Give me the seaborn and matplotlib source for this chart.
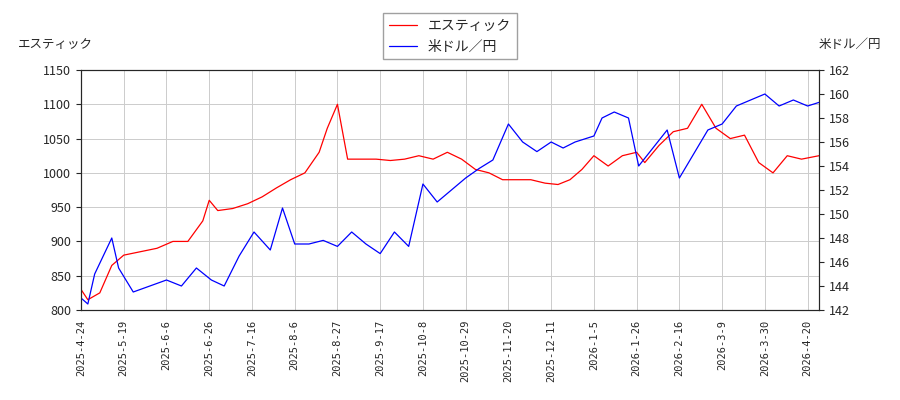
import matplotlib
matplotlib.use("Agg")
import matplotlib.pyplot as plt
import numpy as np
import pandas as pd
import seaborn as sns

sns.set_style("white")
plt.rcParams["font.family"] = ["Noto Sans CJK JP", "DejaVu Sans"]

stock_dates = ["2025-04-24", "2025-04-28", "2025-05-05", "2025-05-12", "2025-05-19", "2025-05-26",
               "2025-06-02", "2025-06-09", "2025-06-16", "2025-06-23", "2025-06-26", "2025-06-30",
               "2025-07-07", "2025-07-14", "2025-07-21", "2025-07-28", "2025-08-04", "2025-08-11",
               "2025-08-18", "2025-08-22", "2025-08-27", "2025-09-01", "2025-09-08", "2025-09-15",
               "2025-09-22", "2025-09-29", "2025-10-06", "2025-10-13", "2025-10-20", "2025-10-27",
               "2025-11-03", "2025-11-10", "2025-11-17", "2025-11-24", "2025-12-01", "2025-12-08",
               "2025-12-15", "2025-12-22", "2025-12-29", "2026-01-05", "2026-01-12", "2026-01-19",
               "2026-01-26", "2026-01-30", "2026-02-06", "2026-02-13", "2026-02-20", "2026-02-27",
               "2026-03-06", "2026-03-13", "2026-03-20", "2026-03-27", "2026-04-03", "2026-04-10",
               "2026-04-17", "2026-04-24"]
stock_vals = [830, 815, 825, 865, 880, 885, 890, 900, 900, 930, 960, 945, 948, 955, 965, 978, 990,
              1000, 1030, 1065, 1100, 1020, 1020, 1020, 1018, 1020, 1025, 1020, 1030, 1020, 1005,
              1000, 990, 990, 990, 985, 983, 990, 1005, 1025, 1010, 1025, 1030, 1015, 1040, 1060,
              1065, 1100, 1065, 1050, 1055, 1015, 1000, 1025, 1020, 1025]

fx_dates = ["2025-04-24", "2025-04-28", "2025-05-02", "2025-05-12", "2025-05-16", "2025-05-23",
            "2025-05-30", "2025-06-06", "2025-06-13", "2025-06-20", "2025-06-27", "2025-07-03",
            "2025-07-10", "2025-07-17", "2025-07-25", "2025-07-31", "2025-08-06", "2025-08-13",
            "2025-08-20", "2025-08-27", "2025-09-03", "2025-09-10", "2025-09-17", "2025-09-24",
            "2025-10-01", "2025-10-08", "2025-10-15", "2025-10-22", "2025-10-29", "2025-11-05",
            "2025-11-12", "2025-11-20", "2025-11-27", "2025-12-04", "2025-12-11", "2025-12-18",
            "2025-12-25", "2026-01-05", "2026-01-09", "2026-01-15", "2026-01-22", "2026-01-27",
            "2026-02-03", "2026-02-10", "2026-02-16", "2026-02-23", "2026-03-02", "2026-03-09",
            "2026-03-16", "2026-03-23", "2026-03-30", "2026-04-06", "2026-04-13", "2026-04-20",
            "2026-04-24"]
fx_vals = [143, 142.5, 145, 148, 145.5, 143.5, 144, 144.5, 144, 145.5, 144.5, 144, 146.5, 148.5,
           147, 150.5, 147.5, 147.5, 147.8, 147.3, 148.5, 147.5, 146.7, 148.5, 147.3, 152.5, 151,
           152, 153, 153.8, 154.5, 157.5, 156, 155.2, 156, 155.5, 156, 156.5, 158, 158.5, 158, 154,
           155.5, 157, 153, 155, 157, 157.5, 159, 159.5, 160, 159, 159.5, 159, 159.3]

tick_labels = ["2025-4-24", "2025-5-19", "2025-6-6", "2025-6-26", "2025-7-16", "2025-8-6",
               "2025-8-27", "2025-9-17", "2025-10-8", "2025-10-29", "2025-11-20", "2025-12-11",
               "2026-1-5", "2026-1-26", "2026-2-16", "2026-3-9", "2026-3-30", "2026-4-20"]

# trading-day axis: ticks sit every 15 sessions
tick_dates = pd.to_datetime(tick_labels)
tick_pos = np.arange(len(tick_labels)) * 15.0
end_date = pd.Timestamp("2026-04-24")
ref_days = np.append(tick_dates.values.astype("datetime64[D]").astype(float),
                     end_date.to_datetime64().astype("datetime64[D]").astype(float))
ref_pos = np.append(tick_pos, tick_pos[-1] + 4)


def to_pos(dates):
    d = pd.to_datetime(dates).values.astype("datetime64[D]").astype(float)
    return np.interp(d, ref_days, ref_pos)


stock = pd.DataFrame({"x": to_pos(stock_dates), "v": stock_vals})
fx = pd.DataFrame({"x": to_pos(fx_dates), "v": fx_vals})

fig, ax = plt.subplots(figsize=(9, 4), dpi=100)
fig.subplots_adjust(left=0.09, right=0.91, top=0.825, bottom=0.225)
ax2 = ax.twinx()

sns.lineplot(data=stock, x="x", y="v", ax=ax, color="red", lw=0.9, label="エスティック", legend=False)
sns.lineplot(data=fx, x="x", y="v", ax=ax2, color="blue", lw=0.9, label="米ドル／円", legend=False)

ax.set_ylim(800, 1150)
ax2.set_ylim(142, 162)
ax2.set_yticks(range(142, 163, 2))
ax.set_xlim(ref_pos[0], ref_pos[-1])
ax.set_xticks(tick_pos)
ax.set_xticklabels(tick_labels, rotation=90, fontsize=7.5, family="DejaVu Sans Mono")
for a in (ax, ax2):
    a.tick_params(axis="y", labelsize=9)
    a.set_xlabel("")
    a.set_ylabel("")
ax.grid(True, color="#cccccc", lw=0.7)
ax.set_axisbelow(True)

ax.text(-0.085, 1.09, "エスティック", transform=ax.transAxes, fontsize=9)
ax2.text(1.0, 1.09, "米ドル／円", transform=ax.transAxes, fontsize=9)

h1, l1 = ax.get_legend_handles_labels()
h2, l2 = ax2.get_legend_handles_labels()
fig.legend(h1 + h2, l1 + l2, loc="upper center", bbox_to_anchor=(0.5, 0.985), fontsize=10,
           frameon=True, edgecolor="#888888", fancybox=False)

fig.savefig("out.png")
